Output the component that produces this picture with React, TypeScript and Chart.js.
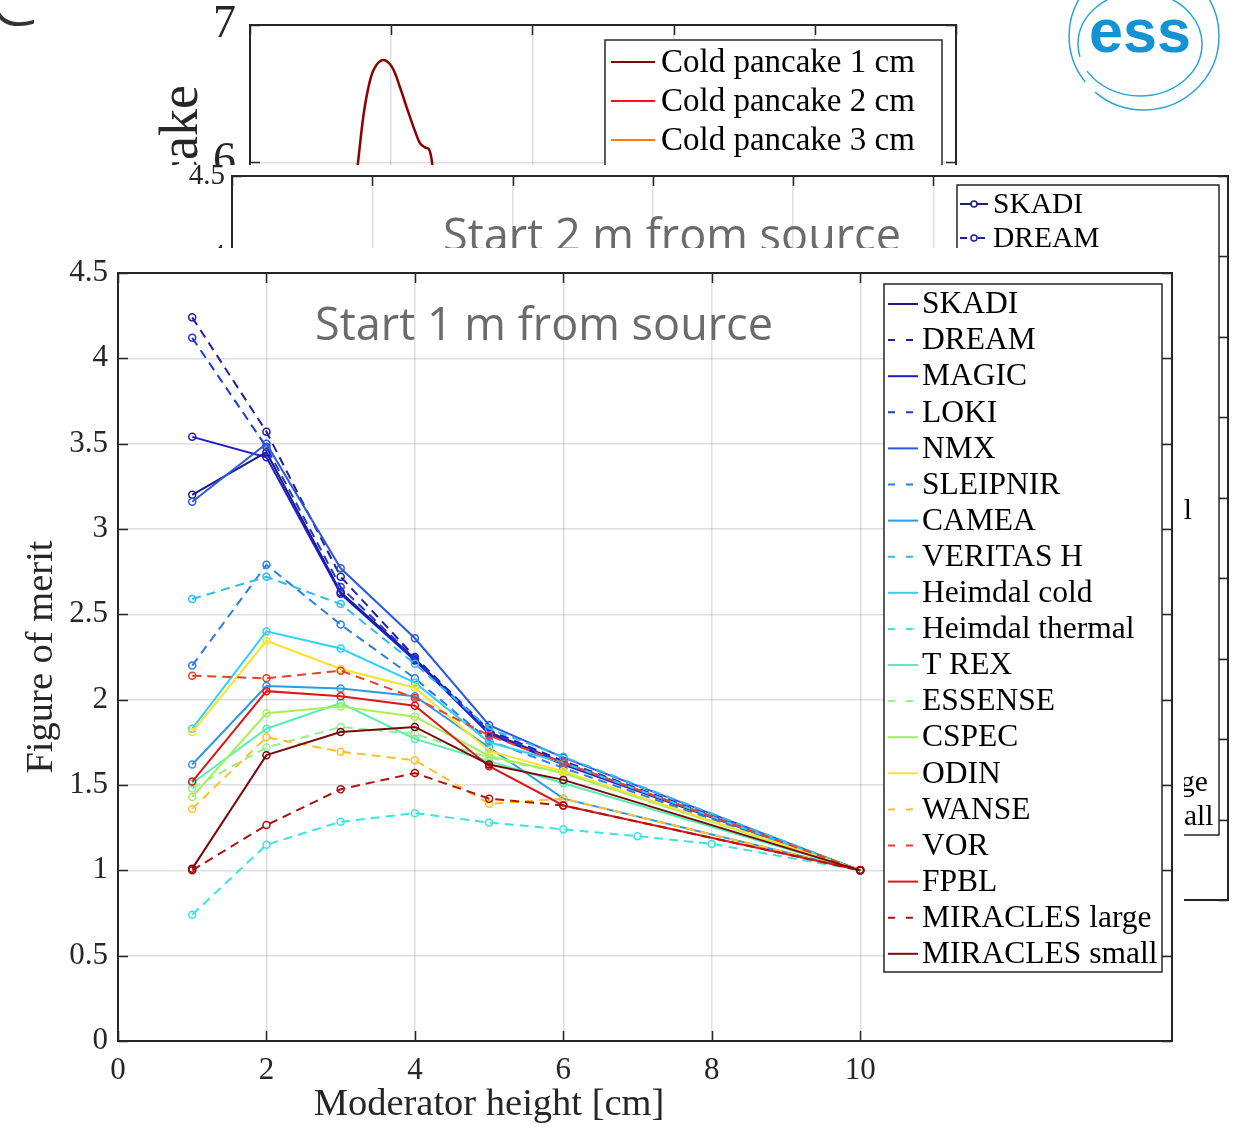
import React, { useEffect, useRef } from "react";
import { Chart, registerables } from "chart.js";
Chart.register(...registerables);

const SERIF = '"Liberation Serif", "Times New Roman", serif';
const SANS = '"Open Sans", "Noto Sans", sans-serif';
const AXIS_COLOR = "#262626";
const GRID_COLOR = "rgba(0,0,0,0.13)";

// ---------------- Front figure: Start 1 m from source ----------------
const seriesNames = [
  "SKADI", "DREAM", "MAGIC", "LOKI", "NMX", "SLEIPNIR", "CAMEA", "VERITAS H",
  "Heimdal cold", "Heimdal thermal", "T REX", "ESSENSE", "CSPEC", "ODIN",
  "WANSE", "VOR", "FPBL", "MIRACLES large", "MIRACLES small",
];
const seriesColors = [
  "#1c1c7e", "#1f1fa6", "#1c1cc8", "#2336dc", "#2a58e2", "#2a7de8", "#2a9ae2",
  "#30baf0", "#30d2f2", "#38e6e0", "#55efb0", "#92f28e", "#a6ef5c", "#ffe02a",
  "#ffc02a", "#ef3c2c", "#dc1818", "#b01212", "#7a0a0a",
];
const seriesDashed = [
  false, true, false, true, false, true, false, true, false, true,
  false, true, false, false, true, true, false, true, false,
];
const heights = [1, 2, 3, 4, 5, 6, 10];
const heightsHeimdalThermal = [1, 2, 3, 4, 5, 6, 7, 8, 10];

const skadi = [3.2, 3.45, 2.63, 2.24, 1.81, 1.63, 1.0];
const dream = [4.24, 3.57, 2.72, 2.25, 1.82, 1.64, 1.0];
const magic = [3.54, 3.42, 2.62, 2.23, 1.8, 1.62, 1.0];
const loki = [4.12, 3.48, 2.66, 2.24, 1.81, 1.63, 1.0];
const nmx = [3.16, 3.5, 2.77, 2.36, 1.85, 1.66, 1.0];
const sleipnir = [2.2, 2.79, 2.44, 2.125, 1.76, 1.6, 1.0];
const camea = [1.62, 2.08, 2.065, 2.02, 1.72, 1.42, 1.0];
const veritasH = [2.59, 2.72, 2.56, 2.21, 1.83, 1.665, 1.0];
const heimdalCold = [1.83, 2.4, 2.3, 2.1, 1.75, 1.63, 1.0];
const heimdalThermal = [0.74, 1.15, 1.285, 1.335, 1.28, 1.24, 1.2, 1.155, 1.0];
const tRex = [1.51, 1.83, 1.98, 1.77, 1.64, 1.51, 1.0];
const essense = [1.48, 1.72, 1.84, 1.8, 1.66, 1.57, 1.0];
const cspec = [1.43, 1.92, 1.96, 1.9, 1.67, 1.57, 1.0];
const odin = [1.81, 2.345, 2.18, 2.07, 1.7, 1.58, 1.0];
const wanse = [1.36, 1.78, 1.695, 1.645, 1.39, 1.42, 1.0];
const vor = [2.14, 2.125, 2.17, 2.01, 1.79, 1.63, 1.0];
const fpbl = [1.52, 2.05, 2.02, 1.965, 1.61, 1.38, 1.0];
const miraclesLarge = [1.0, 1.265, 1.475, 1.57, 1.42, 1.38, 1.0];
const miraclesSmall = [1.01, 1.675, 1.81, 1.84, 1.62, 1.53, 1.0];

const seriesValues = [
  skadi, dream, magic, loki, nmx, sleipnir, camea, veritasH, heimdalCold,
  heimdalThermal, tRex, essense, cspec, odin, wanse, vor, fpbl, miraclesLarge, miraclesSmall,
];
const seriesHeights = seriesNames.map((n) => (n === "Heimdal thermal" ? heightsHeimdalThermal : heights));

const xTicks = [0, 2, 4, 6, 8, 10];
const yTicks = [0, 0.5, 1, 1.5, 2, 2.5, 3, 3.5, 4, 4.5];
const frontTitle = "Start 1 m from source";
const xTitle = "Moderator height [cm]";
const yTitle = "Figure of merit";

// ---------------- Middle figure: Start 2 m from source ----------------
const middleTitle = "Start 2 m from source";
const middleXTicks = [0, 2, 4, 6, 8, 10];
const middleYTicks = [0, 0.5, 1, 1.5, 2, 2.5, 3, 3.5, 4, 4.5];

// ---------------- Back figure: cold pancake ----------------
const pancakeNames = ["Cold pancake 1 cm", "Cold pancake 2 cm", "Cold pancake 3 cm"];
const pancakeColors = ["#8b0000", "#ff1010", "#ff7a10"];
const pancake1X = [0.74, 0.765, 0.8, 0.836, 0.878, 0.942, 1.006, 1.062, 1.119, 1.169, 1.204, 1.239, 1.268, 1.289, 1.31];
const pancake1Y = [5.8, 6.0, 6.314, 6.533, 6.679, 6.745, 6.693, 6.547, 6.372, 6.226, 6.139, 6.109, 6.095, 6.0, 5.8];
const pancakeXTicks = [0, 1, 2, 3, 4, 5];
const pancakeYTicks = [4, 5, 6, 7];
const pancakeYTitle = "Gain relative to pancake";

// ---------------- helpers ----------------
type LegendItem = { label: string; color: string; dashed: boolean };
type LegendSpec = {
  x: number; y: number; w: number; h: number; first: number; rowH: number;
  lineX0: number; lineX1: number; textX: number; fontSize: number; marker: boolean; items: LegendItem[];
};
type TextSpec = { text: string; x: number; y: number; font: string; color: string; rotate?: boolean; align?: CanvasTextAlign; baseline?: CanvasTextBaseline };

function makeFigPlugin(tickLen: number, texts: TextSpec[], legend: LegendSpec | null) {
  return {
    id: "fig",
    afterDraw(chart: any) {
      const ctx: CanvasRenderingContext2D = chart.ctx;
      const ca = chart.chartArea;
      const xs = chart.scales.x;
      const ys = chart.scales.y;
      ctx.save();
      texts.forEach((t) => {
        ctx.save();
        ctx.font = t.font;
        ctx.fillStyle = t.color;
        ctx.textAlign = t.align || "center";
        ctx.textBaseline = t.baseline || "middle";
        ctx.translate(t.x, t.y);
        if (t.rotate) ctx.rotate(-Math.PI / 2);
        ctx.fillText(t.text, 0, 0);
        ctx.restore();
      });
      ctx.strokeStyle = AXIS_COLOR;
      ctx.lineWidth = 1.5;
      ctx.beginPath();
      xs.ticks.forEach((t: any) => {
        const px = Math.round(xs.getPixelForValue(t.value)) + 0.5;
        ctx.moveTo(px, ca.bottom);
        ctx.lineTo(px, ca.bottom - tickLen);
        ctx.moveTo(px, ca.top);
        ctx.lineTo(px, ca.top + tickLen);
      });
      ys.ticks.forEach((t: any) => {
        const py = Math.round(ys.getPixelForValue(t.value)) + 0.5;
        ctx.moveTo(ca.left, py);
        ctx.lineTo(ca.left + tickLen, py);
        ctx.moveTo(ca.right, py);
        ctx.lineTo(ca.right - tickLen, py);
      });
      ctx.stroke();
      ctx.lineWidth = 2;
      ctx.strokeRect(ca.left, ca.top, ca.right - ca.left, ca.bottom - ca.top);
      if (legend) {
        ctx.fillStyle = "#ffffff";
        ctx.fillRect(legend.x, legend.y, legend.w, legend.h);
        ctx.lineWidth = 1.5;
        ctx.strokeStyle = AXIS_COLOR;
        ctx.strokeRect(legend.x, legend.y, legend.w, legend.h);
        ctx.font = `${legend.fontSize}px ${SERIF}`;
        ctx.textAlign = "left";
        ctx.textBaseline = "middle";
        legend.items.forEach((it, i) => {
          const cy = legend.first + i * legend.rowH;
          ctx.strokeStyle = it.color;
          ctx.lineWidth = 2;
          ctx.setLineDash(it.dashed ? [7, 11] : []);
          ctx.beginPath();
          ctx.moveTo(legend.lineX0, cy);
          ctx.lineTo(legend.lineX1, cy);
          ctx.stroke();
          ctx.setLineDash([]);
          if (legend.marker) {
            ctx.fillStyle = "#ffffff";
            ctx.lineWidth = 1.5;
            ctx.beginPath();
            ctx.arc((legend.lineX0 + legend.lineX1) / 2, cy, 3, 0, Math.PI * 2);
            ctx.fill();
            ctx.stroke();
          }
          ctx.fillStyle = "#000000";
          ctx.fillText(it.label, legend.textX, cy + 1);
        });
      }
      ctx.restore();
    },
  };
}

function linScale(min: number, max: number, tickValues: number[], size: number, isX: boolean, fontSize: number, padding: number) {
  return {
    type: "linear",
    min,
    max,
    afterBuildTicks: (s: any) => {
      s.ticks = tickValues.map((v) => ({ value: v }));
    },
    afterFit: (s: any) => {
      if (isX) s.height = size;
      else s.width = size;
      s.paddingTop = 0;
      s.paddingBottom = 0;
      s.paddingLeft = 0;
      s.paddingRight = 0;
    },
    grid: { color: GRID_COLOR, lineWidth: 1.5, drawTicks: false },
    border: { display: false },
    ticks: {
      padding,
      autoSkip: false,
      maxRotation: 0,
      color: AXIS_COLOR,
      font: { family: SERIF, size: fontSize },
      callback: (v: any) => String(v),
    },
  };
}

function ChartCanvas(props: { left: number; top: number; width: number; height: number; z: number; build: () => any }) {
  const ref = useRef<HTMLCanvasElement>(null);
  useEffect(() => {
    const chart = new Chart(ref.current as HTMLCanvasElement, props.build());
    return () => chart.destroy();
  }, []);
  return (
    <canvas
      ref={ref}
      width={props.width}
      height={props.height}
      style={{ position: "absolute", left: props.left, top: props.top, width: props.width, height: props.height, zIndex: props.z, background: "#ffffff" }}
    />
  );
}

const legendItems: LegendItem[] = seriesNames.map((n, i) => ({ label: n, color: seriesColors[i], dashed: seriesDashed[i] }));

function buildFront() {
  return {
    type: "line",
    data: {
      datasets: seriesNames.map((name, i) => ({
        label: name,
        data: seriesHeights[i].map((h, j) => ({ x: h, y: seriesValues[i][j] })),
        borderColor: seriesColors[i],
        backgroundColor: seriesColors[i],
        borderWidth: 2,
        borderDash: seriesDashed[i] ? [9, 6] : [],
        pointRadius: 3.5,
        pointBorderWidth: 1.5,
        pointBackgroundColor: "rgba(255,255,255,0)",
        pointBorderColor: seriesColors[i],
        tension: 0,
        order: seriesNames.length - i,
      })),
    },
    options: {
      animation: false,
      responsive: false,
      layout: { padding: { top: 25, right: 12, left: 0, bottom: 0 } },
      plugins: { legend: { display: false }, tooltip: { enabled: false } },
      scales: {
        x: linScale(0, 14.2, xTicks, 90, true, 31, 11),
        y: linScale(0, 4.5, yTicks, 118, false, 31, 10),
      },
    },
    plugins: [
      makeFigPlugin(
        10,
        [
          { text: frontTitle, x: 544, y: 92, font: `45px ${SANS}`, color: "#6b6b6b", baseline: "alphabetic" },
          { text: yTitle, x: 42, y: 409, font: `38.5px ${SERIF}`, color: AXIS_COLOR, rotate: true },
          { text: xTitle, x: 489, y: 857, font: `38.5px ${SERIF}`, color: AXIS_COLOR },
        ],
        { x: 884, y: 36, w: 278, h: 688, first: 56, rowH: 36.1, lineX0: 888, lineX1: 918, textX: 922, fontSize: 31.5, marker: false, items: legendItems }
      ),
    ],
  };
}

function buildMiddle() {
  return {
    type: "line",
    data: {
      datasets: seriesNames.map((name, i) => ({
        label: name,
        data: [] as any[],
        borderColor: seriesColors[i],
        borderWidth: 2,
        borderDash: seriesDashed[i] ? [9, 6] : [],
      })),
    },
    options: {
      animation: false,
      responsive: false,
      layout: { padding: { top: 11, right: 15, left: 0, bottom: 0 } },
      plugins: { legend: { display: false }, tooltip: { enabled: false } },
      scales: {
        x: linScale(0, 14.2, middleXTicks, 100, true, 29, 10),
        y: linScale(0, 4.5, middleYTicks, 92, false, 29, 7),
      },
    },
    plugins: [
      makeFigPlugin(
        10,
        [
          { text: middleTitle, x: 672 - 140, y: 86, font: `45px ${SANS}`, color: "#6b6b6b", baseline: "alphabetic" },
          { text: yTitle, x: 30, y: 370, font: `36px ${SERIF}`, color: AXIS_COLOR, rotate: true },
        ],
        { x: 817, y: 20, w: 262, h: 650, first: 39, rowH: 34, lineX0: 820, lineX1: 848, textX: 853, fontSize: 29.5, marker: true, items: legendItems }
      ),
    ],
  };
}

function buildBack() {
  return {
    type: "line",
    data: {
      datasets: [
        {
          label: pancakeNames[0],
          data: pancake1X.map((x, j) => ({ x, y: pancake1Y[j] })),
          borderColor: pancakeColors[0],
          borderWidth: 2.5,
          pointRadius: 0,
          tension: 0.35,
        },
        { label: pancakeNames[1], data: [] as any[], borderColor: pancakeColors[1], borderWidth: 2.5, pointRadius: 0 },
        { label: pancakeNames[2], data: [] as any[], borderColor: pancakeColors[2], borderWidth: 2.5, pointRadius: 0 },
      ],
    },
    options: {
      animation: false,
      responsive: false,
      layout: { padding: { top: 25, right: 44, left: 0, bottom: 0 } },
      plugins: { legend: { display: false }, tooltip: { enabled: false } },
      scales: {
        x: linScale(0, 5, pancakeXTicks, 83, true, 46, 12),
        y: linScale(4, 7, pancakeYTicks, 100, false, 46, 14),
      },
    },
    plugins: [
      makeFigPlugin(
        10,
        [{ text: pancakeYTitle, x: 47, y: 85, font: `54px ${SERIF}`, color: AXIS_COLOR, rotate: true, align: "right", baseline: "alphabetic" }],
        {
          x: 455, y: 40, w: 337, h: 220, first: 62, rowH: 39, lineX0: 461, lineX1: 505, textX: 511, fontSize: 33, marker: false,
          items: pancakeNames.map((n, i) => ({ label: n, color: pancakeColors[i], dashed: false })),
        }
      ),
    ],
  };
}

export default function App() {
  return (
    <div style={{ position: "absolute", left: 0, top: 0, width: 1243, height: 1131, background: "#ffffff", overflow: "hidden" }}>
      <svg width={1243} height={130} style={{ position: "absolute", left: 0, top: 0, zIndex: 5 }}>
        <text x={-14} y={25} fontSize={84} fontFamily="Open Sans, sans-serif" fontWeight={300} fill="#333333">C</text>
        <ellipse cx={1144} cy={36} rx={75} ry={74} fill="none" stroke="#2aa4de" strokeWidth={1.5} strokeDasharray="170 14 140 10 200 10" />
        <ellipse cx={1140} cy={44} rx={62} ry={52} fill="none" stroke="#2aa4de" strokeWidth={1.5} strokeDasharray="150 16 110 12" />
        <text x={1140} y={52} textAnchor="middle" fontFamily="Liberation Sans, Arial, sans-serif" fontWeight="bold" fontSize={61} fill="#1592d4" textLength={102} lengthAdjust="spacingAndGlyphs">ess</text>
      </svg>
      <ChartCanvas left={150} top={0} width={850} height={520} z={1} build={buildBack} />
      <ChartCanvas left={140} top={165} width={1103} height={835} z={2} build={buildMiddle} />
      <ChartCanvas left={0} top={248} width={1184} height={883} z={3} build={buildFront} />
    </div>
  );
}
